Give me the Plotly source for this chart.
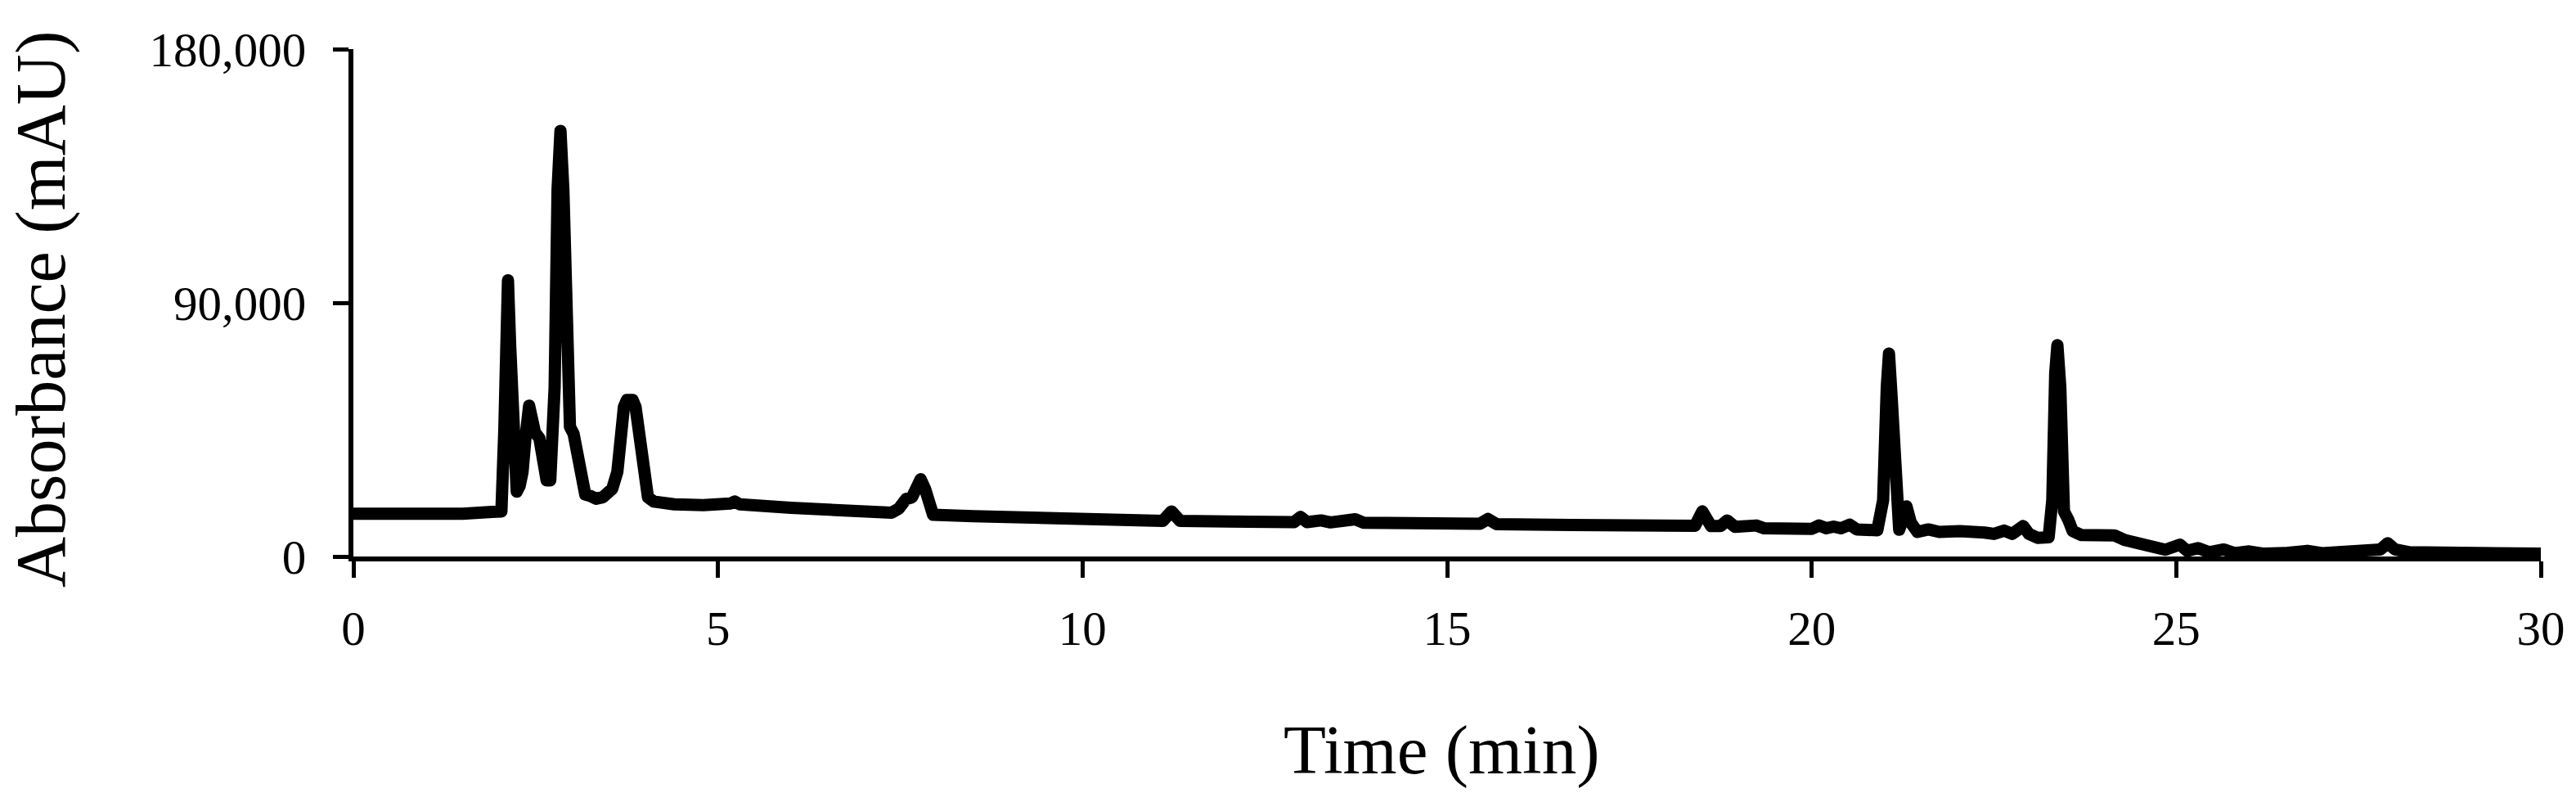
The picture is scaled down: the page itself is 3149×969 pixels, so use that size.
import plotly.graph_objects as go

# Chromatogram trace (time in min, absorbance in mAU)
time_min = [
    0.0, 0.5, 1.0, 1.5, 1.9, 2.03, 2.07, 2.10, 2.12, 2.15, 2.19, 2.24, 2.28, 2.32,
    2.36, 2.39, 2.41, 2.44, 2.49, 2.55, 2.60, 2.65, 2.70, 2.76, 2.80, 2.84, 2.88,
    2.93, 2.97, 3.02, 3.07, 3.12, 3.18, 3.25, 3.33, 3.42, 3.50, 3.55, 3.62, 3.67,
    3.71, 3.75, 3.79, 3.83, 3.87, 3.92, 3.98, 4.04, 4.12, 4.4, 4.8, 5.1, 5.17, 5.23, 5.30,
    6.0, 7.0, 7.38, 7.48, 7.58, 7.66, 7.72, 7.78, 7.84, 7.90, 7.95, 8.5, 9.5,
    10.5, 11.1, 11.22, 11.34, 12.0, 12.9, 12.99, 13.08, 13.27, 13.4, 13.74, 13.85,
    14.5, 15.0, 15.45, 15.56, 15.68, 16.7, 17.0, 17.4, 17.88, 18.0, 18.4, 18.5,
    18.62, 18.75, 18.84, 18.95, 19.24, 19.35, 19.6, 20.0, 20.1, 20.2, 20.3, 20.4,
    20.52, 20.62, 20.9, 20.98, 21.03, 21.06, 21.10, 21.16, 21.20, 21.26, 21.30,
    21.36, 21.45, 21.6, 21.75, 22.03, 22.2, 22.37, 22.5, 22.64, 22.75, 22.84,
    22.90, 22.98, 23.1, 23.25, 23.30, 23.34, 23.37, 23.41, 23.46, 23.52, 23.58,
    23.7, 23.9, 24.15, 24.3, 24.5, 24.66, 24.75, 24.85, 25.05, 25.15, 25.3,
    25.45, 25.65, 25.8, 26.0, 26.2, 26.5, 26.8, 27.0, 27.5, 27.8, 27.9, 28.0,
    28.2, 29.0, 29.5, 30.0,
]
absorbance_k = [
    15.2, 15.0, 14.8, 15.2, 15.8, 16.0, 45, 85, 98, 75, 40, 23, 25, 30,
    42, 51, 53.5, 50, 44, 42, 33, 27, 27, 60, 130, 151, 130,
    60, 46, 43.5, 35, 25, 22, 21.5, 20.5, 21, 23, 24, 30, 46,
    53, 55.5, 56, 55.5, 53, 44, 28, 21, 19.5, 18.5, 18.2, 18.0, 18.8, 19.5, 18.5,
    17.3, 16.0, 15.5, 17, 20.4, 21, 26, 27.4, 24, 16, 14.8, 14.3, 13.4,
    12.8, 12.6, 16, 12.6, 12.4, 12.2, 14, 12.2, 12.8, 12.1, 13.2, 12.0,
    11.8, 11.8, 11.6, 13.3, 11.5, 11.2, 11.0, 11.0, 11.5, 10.8, 10.9, 16,
    10.8, 10.8, 12.8, 10.5, 11, 10, 9.8, 9.8, 11, 10, 10.6, 10,
    11.3, 9.6, 9.3, 20, 60, 72, 55, 15, 9.5, 14, 17.8,
    12, 8.7, 9.6, 8.7, 9.0, 8.2, 8.5, 8.0, 9.2, 8.0, 9,
    10.8, 8, 6.6, 6.8, 20, 65, 75, 60, 16, 13, 9,
    7.6, 7.8, 7.5, 5.8, 4.2, 3.5, 3.2, 2.4, 4.2, 2.0, 3.0,
    1.5, 2.5, 1.2, 1.8, 1.0, 1.2, 2.0, 1.2, 1.4, 2.5, 4.7, 2.5,
    1.5, 1.3, 1.2, 1.0,
]
absorbance = [v * 1000 for v in absorbance_k]

x_ticks = [0, 5, 10, 15, 20, 25, 30]
y_ticks = [0, 90000, 180000]
y_tick_labels = ["0", "90,000", "180,000"]

FONT = "Liberation Serif"

W, H = 3149, 969
L, T = 432, 60
PW, PH = 3106 - 432, 680 - 60
R = W - L - PW
B = H - T - PH


def px(sx):
    return (sx - L) / PW


def py(sy):
    return (T + PH - sy) / PH


fig = go.Figure()
fig.add_trace(go.Scatter(
    x=time_min, y=absorbance, mode="lines",
    line=dict(color="black", width=15),
    showlegend=False, hoverinfo="skip",
))

fig.update_layout(
    width=W, height=H,
    margin=dict(l=L, r=R, t=T, b=B, pad=0),
    paper_bgcolor="white", plot_bgcolor="white",
    font=dict(family=FONT, color="black", size=59),
)
fig.update_xaxes(
    range=[0, 30], tickvals=x_ticks, ticks="outside", ticklen=20, tickwidth=5,
    tickcolor="black", showline=True, linecolor="black", linewidth=6,
    showgrid=False, zeroline=False, tickfont=dict(family=FONT, size=59),
    ticklabelstandoff=11,
)
fig.update_yaxes(
    range=[0, 180000], tickvals=y_ticks, ticktext=y_tick_labels, ticks="outside",
    ticklen=19, tickwidth=5, tickcolor="black", showline=True, linecolor="black",
    linewidth=6, showgrid=False, zeroline=False, tickfont=dict(family=FONT, size=59),
    ticklabelstandoff=21,
)

fig.add_annotation(
    text="Time (min)", xref="paper", yref="paper",
    x=px(1762), y=py(916), xanchor="center", yanchor="middle",
    showarrow=False, font=dict(family=FONT, size=85, color="black"),
)
fig.add_annotation(
    text="Absorbance (mAU)", xref="paper", yref="paper", textangle=-90,
    x=px(50), y=py(378), xanchor="center", yanchor="middle",
    showarrow=False, font=dict(family=FONT, size=86, color="black"),
)

fig.write_html(
    "out.html",
    config={"displayModeBar": False},
    post_script=(
        "document.body.style.margin='0';"
        "document.querySelectorAll('.scatterlayer path.js-line').forEach(function(p){"
        "p.style.strokeLinejoin='round';p.style.strokeLinecap='round';});"
    ),
)
